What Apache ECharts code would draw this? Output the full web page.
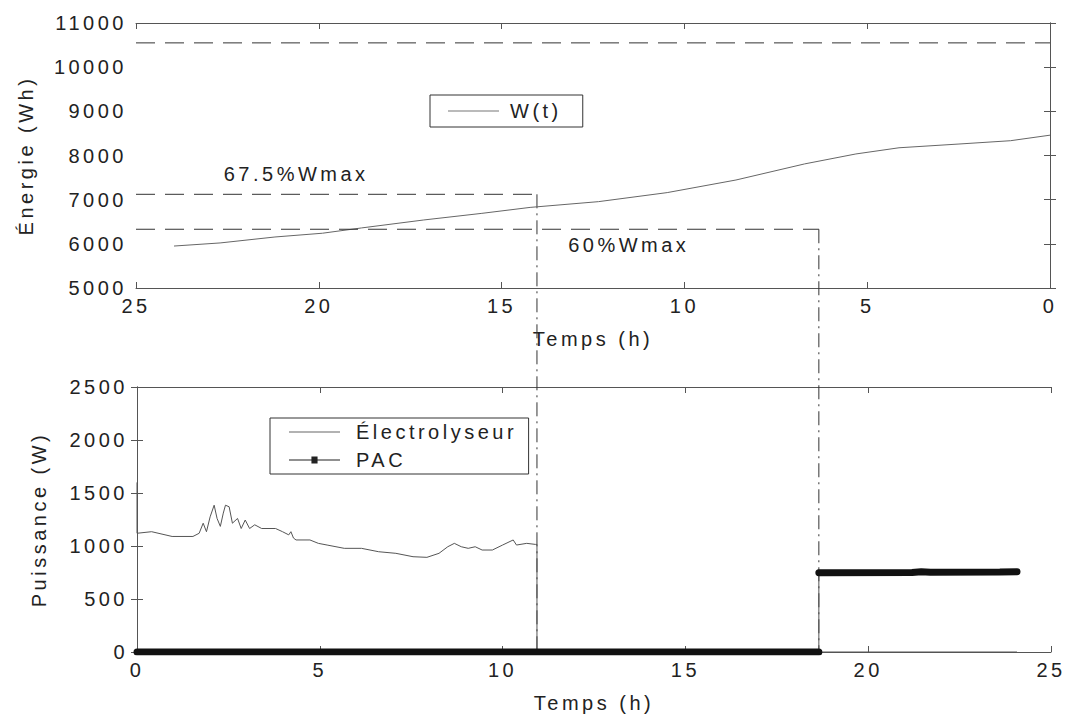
<!DOCTYPE html>
<html><head><meta charset="utf-8">
<script src="https://cdn.jsdelivr.net/npm/echarts/dist/echarts.min.js"></script>
<style>
html,body{margin:0;padding:0;background:#fff;}
#chart{width:1068px;height:720px;}
#chart text{letter-spacing:3.5px;}
</style></head><body><div id="chart"></div>
<script>
// ---------- data ----------
// Top chart: stored energy vs remaining time (axis 25 -> 0)
const wTime   = [23.96, 22.7, 21.2, 19.9, 18.83, 17.13, 15.54, 14.22, 12.35, 10.47, 8.59, 6.71, 5.31, 4.13, 2.49, 1.08, 0];
const wEnergy = [5950, 6020, 6155, 6240, 6360, 6540, 6690, 6825, 6955, 7160, 7445, 7810, 8035, 8175, 8260, 8335, 8460];
const wMax = 10550;
const refPercents = [67.5, 60];
const refLabels = ['67.5%Wmax', '60%Wmax'];
const refEndTop = [14.03, 6.32];      // top-axis time where each reference line stops
const switchBottom = [10.94, 18.65];  // same instants on the bottom time axis
const refLabelPos = [[22.6, 7570], [13.18, 5974]];

// Bottom chart: power vs time
const electrolyseur = [[0,1600],[0,1120],[0.40,1135],[0.96,1090],[1.53,1090],[1.70,1120],[1.81,1215],[1.90,1135],
  [2.00,1275],[2.11,1385],[2.19,1260],[2.28,1185],[2.36,1310],[2.42,1385],[2.52,1370],[2.61,1215],[2.75,1260],
  [2.85,1165],[2.96,1245],[3.08,1165],[3.22,1200],[3.41,1165],[3.79,1165],[3.98,1135],[4.15,1105],[4.21,1135],
  [4.28,1075],[4.35,1057],[4.73,1057],[4.96,1025],[5.20,1009],[5.67,978],[6.14,978],[6.61,946],[7.08,931],
  [7.55,899],[7.93,893],[8.26,931],[8.50,993],[8.68,1025],[8.87,993],[9.06,978],[9.25,993],[9.44,962],[9.72,962],
  [10.0,1009],[10.29,1057],[10.38,1009],[10.66,1025],[10.90,1015],[10.94,1015],[10.94,0],[24.07,0]];
const pac = [[0,0],[18.65,0],[18.65,748],[21.2,750],[21.45,758],[21.7,752],[23.6,755],[24.07,758]];

const xRange = {min:0, max:25, interval:5};
const yTop = {min:5000, max:11000, interval:1000};
const yBottom = {min:0, max:2500, interval:500};

// ---------- chart ----------
const FONT = "'Liberation Sans', Arial, sans-serif";
const AX = '#555';
const LINE_ICON = 'path://M0,0 H50 V1 H0 Z';
const PAC_ICON = 'path://M0,3 H22 V0 H28 V3 H50 V4 H28 V7 H22 V4 H0 Z';
const chart = echarts.init(document.getElementById('chart'), null, {renderer:'svg'});

function xAx(grid, pos, inverse, labels, name){
  return {type:'value', gridIndex:grid, position:pos, inverse:inverse,
    min:xRange.min, max:xRange.max, interval:xRange.interval,
    axisLine:{show:true, onZero:false, lineStyle:{color:AX, width:1}},
    axisTick:{show:true, inside:true, length:6, lineStyle:{color:AX}},
    axisLabel:{show:labels, margin:8, fontSize:20, color:'#222', fontFamily:FONT, formatter:v=>String(v)},
    splitLine:{show:false},
    name: name||'', nameLocation:'middle', nameGap:41,
    nameTextStyle:{fontSize:20, color:'#222', fontFamily:FONT}};
}
function yAx(grid, pos, rng, labels, name, gap){
  return {type:'value', gridIndex:grid, position:pos, min:rng.min, max:rng.max, interval:rng.interval,
    axisLine:{show:true, lineStyle:{color:AX, width:1}},
    axisTick:{show:true, inside:true, length:6, lineStyle:{color:AX}},
    axisLabel:{show:labels, margin:9, fontSize:20, color:'#222', fontFamily:FONT, formatter:v=>String(v)},
    splitLine:{show:false},
    name: name||'', nameLocation:'middle', nameRotate:90, nameGap:gap||0,
    nameTextStyle:{fontSize:20, color:'#222', fontFamily:FONT}};
}

// thick PAC segments (split where the curve jumps)
const pacSegments = [];
let cur = [pac[0]];
for (let i=1;i<pac.length;i++){
  if (pac[i][0] === pac[i-1][0]) { pacSegments.push(cur); cur=[pac[i]]; }
  else cur.push(pac[i]);
}
pacSegments.push(cur);

const series = [
  {name:'W(t)', type:'line', xAxisIndex:0, yAxisIndex:0, showSymbol:false, symbol:'none',
   data: wTime.map((t,i)=>[t,wEnergy[i]]), lineStyle:{color:'#666', width:1}, itemStyle:{color:'#777'}, z:3},
  {name:'Wmax', type:'line', xAxisIndex:0, yAxisIndex:0, symbol:'none', silent:true,
   data:[[xRange.max,wMax],[xRange.min,wMax]], lineStyle:{color:'#333', width:1, type:[19,10]}},
];
refPercents.forEach((p,i)=>{
  const v = wMax*p/100;
  series.push({name:'ref'+i, type:'line', xAxisIndex:0, yAxisIndex:0, symbol:'none', silent:true,
    data:[[xRange.max,v],[refEndTop[i],v]], lineStyle:{color:'#333', width:1, type:[19,10]}});
});
series.push(
  {name:'Électrolyseur', type:'line', xAxisIndex:2, yAxisIndex:2, symbol:'none', showSymbol:false,
   data: electrolyseur, lineStyle:{color:'#555', width:1}, itemStyle:{color:'#666'}, z:3},
  {name:'PAC', type:'line', xAxisIndex:2, yAxisIndex:2, symbol:'rect', symbolSize:6, showSymbol:false,
   data: pac, lineStyle:{color:'#555', width:1}, itemStyle:{color:'#111'}, z:4}
);
pacSegments.forEach((seg,k)=>{
  series.push({name:'PAC segment '+k, type:'line', xAxisIndex:2, yAxisIndex:2, symbol:'none', silent:true,
    data: seg, lineStyle:{color:'#111', width:7, cap:'round'}, z:5});
});

const legendBase = {orient:'vertical', backgroundColor:'#fff', borderColor:'#333', borderWidth:1,
  itemWidth:51, itemHeight:12, selectedMode:false, symbolKeepAspect:true,
  textStyle:{fontSize:20, color:'#222', fontFamily:FONT, padding:[0,0,0,6]}};

chart.setOption({
  animation:false,
  backgroundColor:'#fff',
  grid:[
    {left:136, right:18, top:23, height:265, show:false},
    {left:137, right:17, top:387, height:265, show:false}
  ],
  xAxis:[
    xAx(0,'bottom',true,true,'Temps (h)'),
    xAx(0,'top',true,false),
    xAx(1,'bottom',false,true,'Temps (h)'),
    xAx(1,'top',false,false)
  ],
  yAxis:[
    yAx(0,'left',yTop,true,'Énergie (Wh)',100),
    yAx(0,'right',yTop,false),
    yAx(1,'left',yBottom,true,'Puissance (W)',88),
    yAx(1,'right',yBottom,false)
  ],
  legend:[
    Object.assign({}, legendBase, {data:[{name:'W(t)', icon:LINE_ICON, itemStyle:{color:'#777'}}],
      left:430, top:95, padding:[6,35,6,18]}),
    Object.assign({}, legendBase, {data:[{name:'Électrolyseur', icon:LINE_ICON, itemStyle:{color:'#666'}},
      {name:'PAC', icon:PAC_ICON, itemStyle:{color:'#222'}}],
      left:270, top:418, itemGap:8, padding:[4,57,4,19],
      textStyle:Object.assign({}, legendBase.textStyle, {padding:[0,0,0,11]})})
  ],
  series: series
});

// ---------- annotations placed through the axes' scales ----------
const gTop = {xAxisIndex:0, yAxisIndex:0};
const gBot = {xAxisIndex:2, yAxisIndex:2};
const graphics = [];
refPercents.forEach((p,i)=>{
  const v = wMax*p/100;
  const a = chart.convertToPixel(gTop, [refEndTop[i], v]);
  const b = chart.convertToPixel(gBot, [switchBottom[i], 0]);
  graphics.push({type:'polyline', silent:true, z:2,
    shape:{points:[[b[0],a[1]],[b[0],b[1]]]},
    style:{stroke:'#333', lineWidth:1, lineDash:[14,5,2,5], fill:null}});
  const lp = chart.convertToPixel(gTop, refLabelPos[i]);
  graphics.push({type:'text', silent:true, x:lp[0], y:lp[1],
    style:{text:refLabels[i], fontSize:20, fontFamily:FONT, fill:'#222', textAlign:'left', textVerticalAlign:'middle'}});
});
chart.setOption({graphic: graphics});
</script></body></html>
